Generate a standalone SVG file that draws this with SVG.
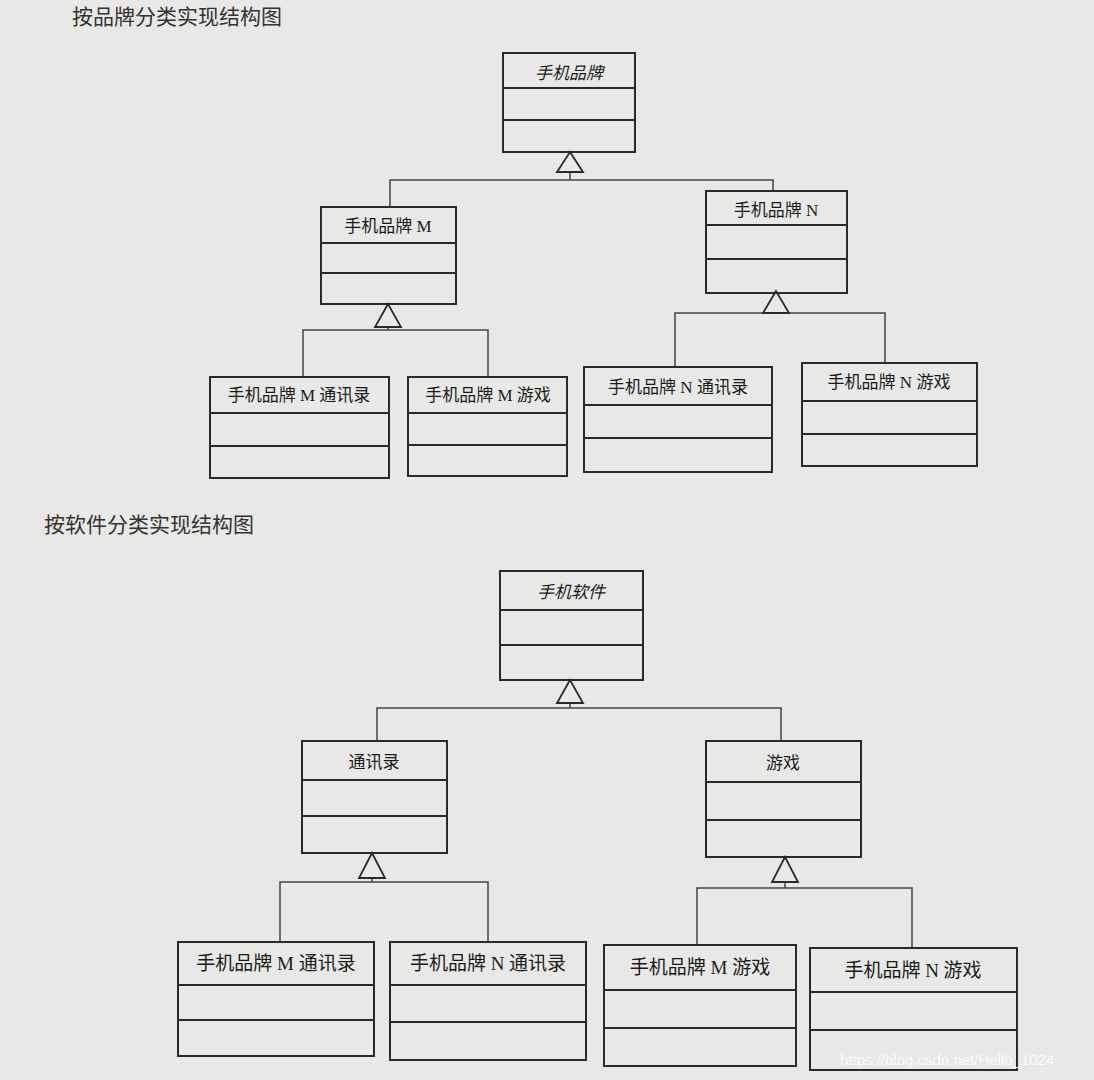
<svg xmlns="http://www.w3.org/2000/svg" width="1094" height="1080" viewBox="0 0 1094 1080">
<style>
.b{fill:none;stroke:#2a2a2a;stroke-width:2}
.l{fill:none;stroke:#444;stroke-width:1.5}
.t{fill:#e9e9e7;stroke:#2a2a2a;stroke-width:1.8}
.n{font-family:"Liberation Serif","Noto Sans CJK SC",serif;font-size:17px;fill:#1a1a1a;text-anchor:middle}
.i{font-style:italic}
.h{font-family:"Liberation Serif","Noto Sans CJK SC",serif;font-size:21px;fill:#333}
</style>
<rect width="1094" height="1080" fill="#e8e8e6"/>
<text class="h" x="72" y="24">按品牌分类实现结构图</text>
<text class="h" x="44" y="532">按软件分类实现结构图</text>
<g id="connectors">
<path class="l" d="M570,172V180M390,207V180H773V191"/>
<path class="l" d="M388,327V330M303,377V330H488V377"/>
<path class="l" d="M776,313V313M675,367V313H885V363"/>
<path class="l" d="M570,703V708M377,741V708H781V741"/>
<path class="l" d="M372,878V882M280,942V882H488V942"/>
<path class="l" d="M785,882V888M697,945V888H912V948"/>
<polygon class="t" points="570,152 557,172 583,172"/>
<polygon class="t" points="388,304 375,327 401,327"/>
<polygon class="t" points="776,291 763,313 789,313"/>
<polygon class="t" points="570,680 557,703 583,703"/>
<polygon class="t" points="372,853 359,878 385,878"/>
<polygon class="t" points="785,857 772,882 798,882"/>
</g>
<g id="brand"><rect class="b" x="503" y="53" width="132" height="99"/><path class="b" d="M503,88H635M503,120H635"/><text class="n i" x="569" y="79">手机品牌</text></g>
<g id="brandM"><rect class="b" x="321" y="207" width="135" height="97"/><path class="b" d="M321,243H456M321,273H456"/><text class="n" x="388" y="232">手机品牌 M</text></g>
<g id="brandN"><rect class="b" x="706" y="191" width="141" height="102"/><path class="b" d="M706,225H847M706,259H847"/><text class="n" x="776" y="216">手机品牌 N</text></g>
<g id="MContacts"><rect class="b" x="210" y="377" width="179" height="101"/><path class="b" d="M210,413H389M210,446H389"/><text class="n" x="299" y="401">手机品牌 M 通讯录</text></g>
<g id="MGame"><rect class="b" x="408" y="377" width="159" height="99"/><path class="b" d="M408,413H567M408,445H567"/><text class="n" x="488" y="401">手机品牌 M 游戏</text></g>
<g id="NContacts"><rect class="b" x="584" y="367" width="188" height="105"/><path class="b" d="M584,405H772M584,438H772"/><text class="n" x="678" y="393">手机品牌 N 通讯录</text></g>
<g id="NGame"><rect class="b" x="802" y="363" width="175" height="103"/><path class="b" d="M802,401H977M802,434H977"/><text class="n" x="889" y="388">手机品牌 N 游戏</text></g>
<g id="software"><rect class="b" x="500" y="571" width="143" height="109"/><path class="b" d="M500,610H643M500,645H643"/><text class="n i" x="571" y="598">手机软件</text></g>
<g id="contacts"><rect class="b" x="302" y="741" width="145" height="112"/><path class="b" d="M302,780H447M302,816H447"/><text class="n" x="374" y="768">通讯录</text></g>
<g id="game"><rect class="b" x="706" y="741" width="155" height="116"/><path class="b" d="M706,782H861M706,820H861"/><text class="n" x="783" y="769">游戏</text></g>
<g id="MContacts2"><rect class="b" x="178" y="942" width="196" height="114"/><path class="b" d="M178,985H374M178,1020H374"/><text class="n" x="276" y="970" style="font-size:19px">手机品牌 M 通讯录</text></g>
<g id="NContacts2"><rect class="b" x="390" y="942" width="196" height="118"/><path class="b" d="M390,985H586M390,1022H586"/><text class="n" x="488" y="970" style="font-size:19px">手机品牌 N 通讯录</text></g>
<g id="MGame2"><rect class="b" x="604" y="945" width="192" height="121"/><path class="b" d="M604,990H796M604,1028H796"/><text class="n" x="700" y="974" style="font-size:19px">手机品牌 M 游戏</text></g>
<g id="NGame2"><rect class="b" x="810" y="948" width="207" height="122"/><path class="b" d="M810,992H1017M810,1030H1017"/><text class="n" x="913" y="977" style="font-size:19px">手机品牌 N 游戏</text></g>
<text x="840" y="1065" style="font-family:'Liberation Sans',sans-serif;font-size:15px;fill:#fafafa">https://blog.csdn.net/Hello_1024</text>
</svg>
